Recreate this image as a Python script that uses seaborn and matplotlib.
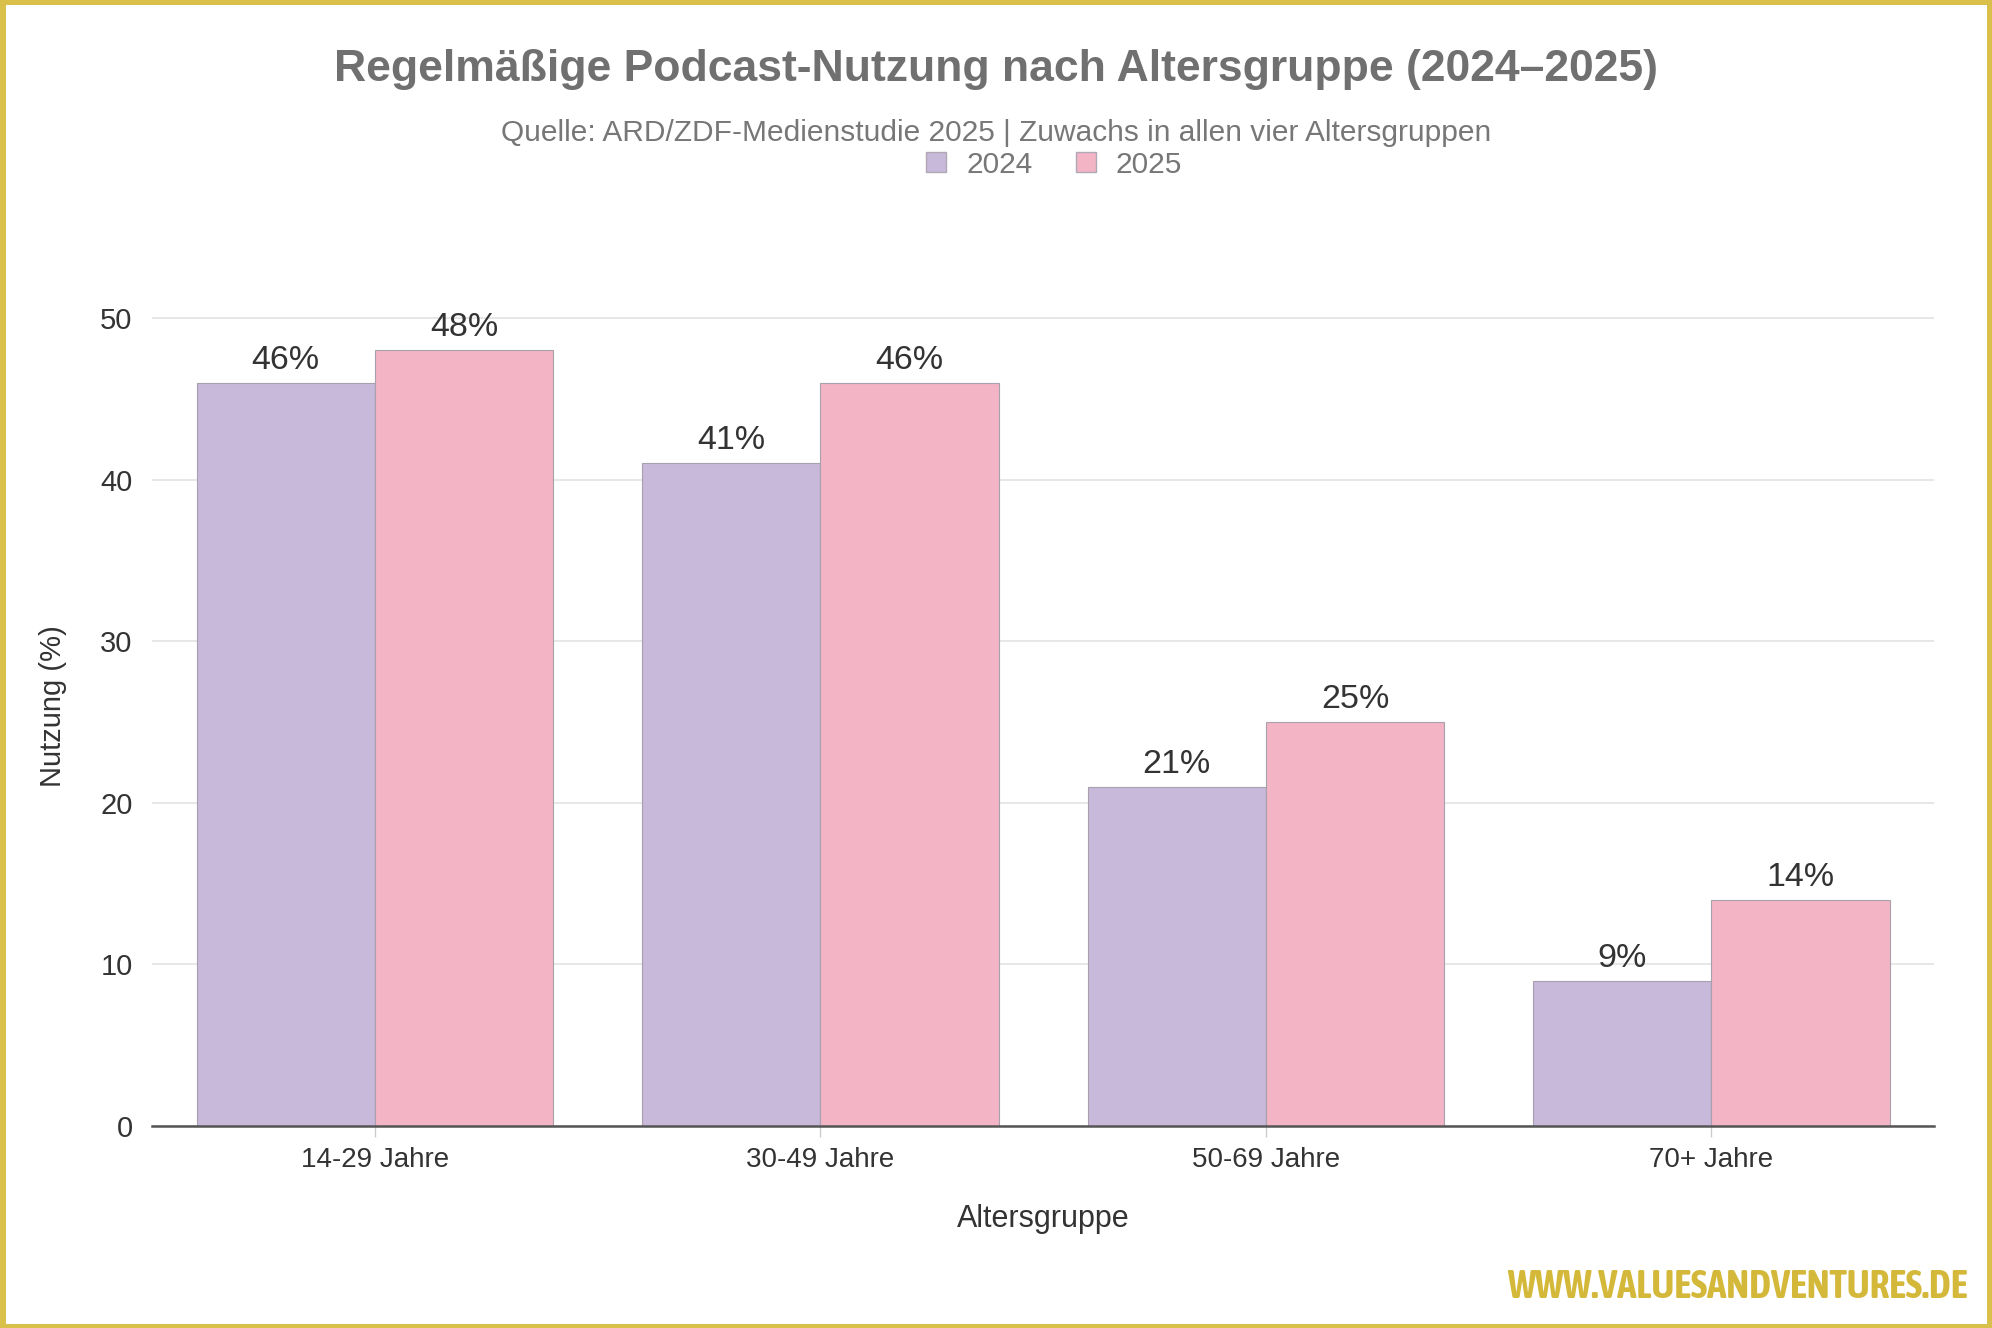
import pandas as pd
import matplotlib.pyplot as plt
from matplotlib import font_manager
from matplotlib.patches import Rectangle
from matplotlib.lines import Line2D
import seaborn as sns

altersgruppen = ["14-29 Jahre", "30-49 Jahre", "50-69 Jahre", "70+ Jahre"]
jahre = ["2024", "2025"]
nutzung_2024 = [46, 41, 21, 9]
nutzung_2025 = [48, 46, 25, 14]
farben = {"2024": "#C8B8DA", "2025": "#F3B5C5"}

df = pd.DataFrame({
    "Altersgruppe": altersgruppen * 2,
    "Jahr": ["2024"] * 4 + ["2025"] * 4,
    "Nutzung": nutzung_2024 + nutzung_2025,
})

sns.set_theme(style="white")
plt.rcParams["font.family"] = ["Liberation Sans", "DejaVu Sans"]


def gewicht(f):
    w = f.weight
    if isinstance(w, str):
        w = font_manager.weight_dict.get(w, 400)
    return w


# schmale fette Schrift fuer das Wasserzeichen, falls vorhanden
schmal = [f for f in font_manager.fontManager.ttflist
          if ("Narrow" in f.name or "Condensed" in f.name) and f.style == "normal"
          and "Italic" not in f.fname]
fett = sorted([f for f in schmal if 550 <= gewicht(f) <= 800],
              key=lambda f: abs(gewicht(f) - 700))
if fett:
    wm_props = font_manager.FontProperties(fname=fett[0].fname, size=28)
elif schmal:
    wm_props = font_manager.FontProperties(fname=schmal[0].fname, size=27, weight="bold")
else:
    wm_props = font_manager.FontProperties(family="Liberation Sans", size=21, weight="bold")

fig = plt.figure(figsize=(19.92, 13.28), dpi=100)
ax = fig.add_axes([0.0763, 0.152, 0.8947, 0.633])

sns.barplot(data=df, x="Altersgruppe", y="Nutzung", hue="Jahr", hue_order=jahre,
            palette=farben, width=0.8, edgecolor="#A8A0AC", linewidth=0.8,
            saturation=1, legend=False, ax=ax)

for c in ax.containers:
    ax.bar_label(c, fmt="%d%%", padding=5, fontsize=24.5, color="#333333")

ax.set_xlim(-0.5, 3.5)
ax.set_ylim(0, 52)
ax.set_yticks([0, 10, 20, 30, 40, 50])
ax.yaxis.grid(True, color="#E3E3E3", linewidth=1.2)
ax.set_axisbelow(True)
for s in ["top", "right", "left"]:
    ax.spines[s].set_visible(False)
ax.spines["bottom"].set_color("#555555")
ax.spines["bottom"].set_linewidth(1.8)
ax.tick_params(axis="y", length=8, color="#DDDDDD", width=1.2, labelsize=21,
               labelcolor="#333333", pad=6)
ax.tick_params(axis="x", length=8, color="#CCCCCC", width=1.0, labelsize=20,
               labelcolor="#333333", pad=7, bottom=True)
ax.set_xlabel("Altersgruppe", fontsize=22, color="#333333", labelpad=22)
ax.set_ylabel("Nutzung (%)", fontsize=21, color="#333333", labelpad=24)

fig.text(0.5, 0.948, "Regelmäßige Podcast-Nutzung nach Altersgruppe (2024–2025)",
         ha="center", va="center", fontsize=32, fontweight="bold", color="#707070")
fig.text(0.5, 0.9, "Quelle: ARD/ZDF-Medienstudie 2025 | Zuwachs in allen vier Altersgruppen",
         ha="center", va="center", fontsize=21.5, color="#777777")

handles = [Line2D([0], [0], marker="s", linestyle="", markersize=15,
                  markerfacecolor=farben[j], markeredgecolor="#B0A8B4") for j in jahre]
fig.legend(handles, jahre, loc="center", bbox_to_anchor=(0.528, 0.876), ncol=2,
           frameon=False, fontsize=21.5, labelcolor="#777777", handletextpad=0.5,
           columnspacing=1.3, handlelength=1.0)

fig.text(0.9875, 0.031, "WWW.VALUESANDVENTURES.DE", ha="right", va="center",
         fontproperties=wm_props, color="#D4B83A")

fig.patches.append(Rectangle((0.001, 0.001), 0.998, 0.998, transform=fig.transFigure,
                             fill=False, edgecolor="#D9C04A", linewidth=5))

fig.savefig("out.png", dpi=100)
